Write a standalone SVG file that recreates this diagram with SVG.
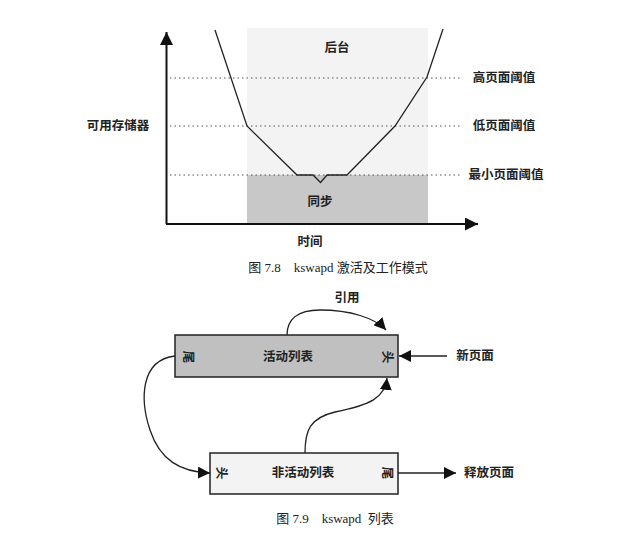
<svg xmlns="http://www.w3.org/2000/svg" width="622" height="536" viewBox="0 0 622 536">
<defs>
<marker id="ah" viewBox="0 0 10 10" refX="10" refY="5" markerWidth="12" markerHeight="12" markerUnits="userSpaceOnUse" orient="auto">
<path d="M0,0 L10,5 L0,10 z" fill="#111"/>
</marker>
<marker id="ahb" viewBox="0 0 10 10" refX="10" refY="5" markerWidth="13" markerHeight="13" markerUnits="userSpaceOnUse" orient="auto">
<path d="M0,0 L10,5 L0,10 z" fill="#111"/>
</marker>
</defs>
<style>
text{font-family:"Liberation Serif","Noto Sans CJK SC",serif;font-size:12.5px;fill:#222;font-weight:bold;}
.lbl{text-anchor:middle;dominant-baseline:central;}
.cap{font-weight:normal;font-size:13px;}
.dot{stroke:#555;stroke-width:1.2;stroke-dasharray:1.5 3;fill:none;}
.ln{stroke:#222;stroke-width:1.3;fill:none;}
.box{stroke:#222;stroke-width:1.5;}
</style>
<rect width="622" height="536" fill="#fff"/>
<g id="chart78">
<rect x="247" y="28" width="181" height="147" fill="#f3f3f3"/>
<rect x="247" y="175" width="181" height="48" fill="#c8c8c8"/>
<line class="dot" x1="170" y1="78" x2="460" y2="78"/>
<line class="dot" x1="170" y1="126" x2="460" y2="126"/>
<line class="dot" x1="170" y1="175" x2="460" y2="175"/>
<polyline class="ln" points="215,30 247,126 297,175 313,175 320.5,182.5 327,175 347,175 395,126 427,77 443,29"/>
<line x1="166.5" y1="224" x2="166.5" y2="32" stroke="#111" stroke-width="2" marker-end="url(#ahb)"/>
<line x1="166" y1="224" x2="478" y2="224" stroke="#111" stroke-width="2" marker-end="url(#ahb)"/>
<text class="lbl" x="118" y="126">可用存储器</text>
<text class="lbl" x="337" y="48">后台</text>
<text class="lbl" x="320" y="202">同步</text>
<text class="lbl" x="504" y="78">高页面阈值</text>
<text class="lbl" x="504" y="126">低页面阈值</text>
<text class="lbl" x="506" y="175">最小页面阈值</text>
<text class="lbl" x="310" y="242">时间</text>
<text class="lbl cap" x="338" y="267" xml:space="preserve">图 7.8    kswapd 激活及工作模式</text>
</g>
<g id="active">
<rect class="box" x="175" y="335" width="223" height="42" fill="#c0c0c0"/>
<text class="lbl" x="288" y="357">活动列表</text>
<text class="lbl" x="188" y="357" transform="rotate(90 188 357)">尾</text>
<text class="lbl" x="387" y="357" transform="rotate(90 387 357)">头</text>
</g>
<g id="inactive">
<rect class="box" x="210" y="453" width="188" height="41" fill="#f3f3f3"/>
<text class="lbl" x="303" y="473">非活动列表</text>
<text class="lbl" x="221" y="473" transform="rotate(90 221 473)">头</text>
<text class="lbl" x="387" y="473" transform="rotate(90 387 473)">尾</text>
</g>
<g id="labels">
<text class="lbl" x="347" y="298">引用</text>
<text class="lbl" x="475" y="356">新页面</text>
<text class="lbl" x="489" y="473">释放页面</text>
<text class="lbl cap" x="335" y="518" xml:space="preserve">图 7.9    kswapd  列表</text>
</g>
<g id="connectors">
<path class="ln" d="M287,335 C287,320 297,310 320,310 C350,310 375,318 386,330" marker-end="url(#ah)"/>
<line class="ln" x1="447" y1="356" x2="399" y2="356" marker-end="url(#ah)"/>
<path class="ln" d="M175,356 C140,360 140,400 150,430 C160,460 180,472 210,473" marker-end="url(#ah)"/>
<path class="ln" d="M305,453 C305,430 310,418 335,412 C370,405 385,398 387,378" marker-end="url(#ah)"/>
<line class="ln" x1="398" y1="473" x2="456" y2="473" marker-end="url(#ah)"/>
</g>
</svg>
